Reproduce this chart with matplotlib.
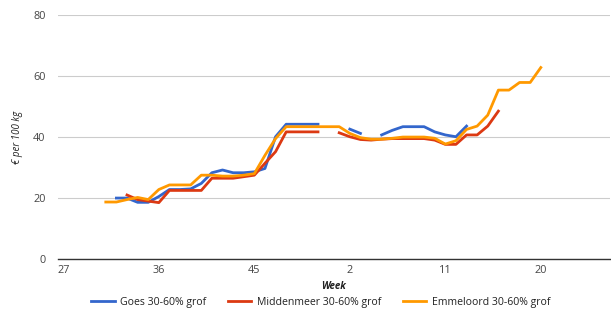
import matplotlib
matplotlib.use("Agg")
import matplotlib.pyplot as plt
import numpy as np

nan = np.nan

# season weeks 27..52, 1..26
weeks = list(range(27, 53)) + list(range(1, 27))
tick_weeks = [27, 36, 45, 2, 11, 20]

goes = [nan] * 5 + [20, 20, 18.6, 18.6, 20.5, 22.8, 22.8, 23, 24.8, 28.3,
                    29.2, 28.3, 28.3, 28.6, 29.7, 40.1, 44.2, 44.2, 44.2, 44.2,
                    nan, nan, 42.6, 41.2, nan, 40.7, 42.2, 43.4, 43.4, 43.4,
                    41.7, 40.7, 40.1, 43.6] + [nan] * 13
middenmeer = [nan] * 6 + [21, 19.5, 19, 18.5, 22.5, 22.5, 22.5, 22.5, 26.5,
                          26.5, 26.5, 27, 27.5, 31.4, 35.2, 41.7, 41.7, 41.7,
                          41.7, nan, 41.4, 40.1, 39.2, 39, 39.3, 39.5, 39.5,
                          39.5, 39.5, 39, 37.6, 37.6, 40.7, 40.7, 43.6,
                          48.5] + [nan] * 10
emmeloord = [nan] * 4 + [18.7, 18.7, 19.5, 20.2, 19.5, 22.8, 24.3, 24.3, 24.3,
                         27.5, 27.5, 27.2, 27.2, 27.5, 28, 34, 39.5, 43.4,
                         43.4, 43.4, 43.4, 43.4, 43.4, 41.2, 39.8, 39.3, 39.3,
                         39.6, 40, 40, 40, 39.6, 37.7, 38.8, 42.5, 43.6, 47.2,
                         55.4, 55.4, 57.9, 57.9, 62.8] + [nan] * 6

series = [
    ("Goes 30-60% grof", goes, "#3366CC"),
    ("Middenmeer 30-60% grof", middenmeer, "#DC3912"),
    ("Emmeloord 30-60% grof", emmeloord, "#FF9900"),
]

plt.rcParams["font.family"] = ["Open Sans", "DejaVu Sans"]

fig = plt.figure(figsize=(6.11, 3.14), dpi=100)
ax = fig.add_axes([0.095, 0.175, 0.903, 0.777])

x = np.arange(len(weeks))
for name, vals, col in series:
    ax.plot(x, np.array(vals, dtype=float), color=col, lw=2.0,
            label=name, solid_joinstyle="round")

ax.set_xlim(-0.5, len(weeks) - 0.5)
ax.set_ylim(0, 80)
ax.set_yticks([0, 20, 40, 60, 80])
ax.set_xticks([weeks.index(w) for w in tick_weeks])
ax.set_xticklabels([str(w) for w in tick_weeks])
ax.grid(axis="y", color="#CCCCCC", lw=0.8)
ax.set_axisbelow(True)
for s in ("top", "right", "left"):
    ax.spines[s].set_visible(False)
ax.spines["bottom"].set_color("#333333")
ax.spines["bottom"].set_linewidth(1.0)
ax.tick_params(length=0, labelsize=7.8, colors="#444444")
ax.tick_params(axis="y", pad=9)
ax.tick_params(axis="x", pad=4)

ax.set_ylabel("€ per 100 kg", fontsize=7, style="italic", color="#222222",
              labelpad=7)
ax.set_xlabel("Week", fontsize=7, style="italic", fontweight="bold",
              color="#222222", labelpad=4)

fig.legend(loc="center", bbox_to_anchor=(0.525, 0.038), ncol=3, frameon=False,
           fontsize=7.6, handlelength=2.2, columnspacing=2.1,
           handletextpad=0.5, labelcolor="#222222")

fig.savefig("out.png", dpi=100)
